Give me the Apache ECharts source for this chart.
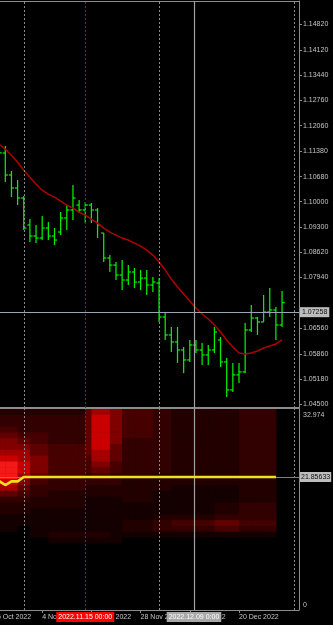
<!DOCTYPE html>
<html>
<head>
<meta charset="utf-8">
<script src="https://cdn.jsdelivr.net/npm/echarts@6/dist/echarts.min.js"></script>
<style>
html,body{margin:0;padding:0;background:#000;overflow:hidden;}
#chart{width:333px;height:625px;}
</style>
</head>
<body>
<div id="chart"></div>
<script>
// ---- data (daily bars) ----
const dates = ['2022.10.26','2022.10.27','2022.10.28','2022.10.31','2022.11.01','2022.11.02','2022.11.03','2022.11.04',
 '2022.11.07','2022.11.08','2022.11.09','2022.11.10','2022.11.11','2022.11.14','2022.11.15','2022.11.16','2022.11.17','2022.11.18',
 '2022.11.21','2022.11.22','2022.11.23','2022.11.24','2022.11.25','2022.11.28','2022.11.29','2022.11.30','2022.12.01','2022.12.02',
 '2022.12.05','2022.12.06','2022.12.07','2022.12.08','2022.12.09','2022.12.12','2022.12.13','2022.12.14','2022.12.15','2022.12.16',
 '2022.12.19','2022.12.20','2022.12.21','2022.12.22','2022.12.23','2022.12.26','2022.12.27','2022.12.28','2022.12.29'];
const opens  = [1.11401,1.11320,1.10722,1.10370,1.10099,1.09366,1.09067,1.09013,1.09284,1.09067,1.09176,1.09555,1.09773,1.09908,1.09773,1.09908,1.09773,1.09149,1.08470,1.08279,1.08008,1.07873,1.08090,1.07818,1.07926,1.07737,1.07791,1.06869,1.06382,1.06192,1.05975,1.05704,1.06110,1.05975,1.05840,1.05975,1.06246,1.05650,1.04891,1.05298,1.05379,1.06517,1.06842,1.06734,1.07005,1.07059,1.06653];
const highs  = [1.11672,1.11509,1.10831,1.10587,1.10153,1.09529,1.09366,1.09610,1.09447,1.09284,1.09718,1.09908,1.10451,1.10044,1.09990,1.09963,1.09827,1.09149,1.08551,1.08361,1.08415,1.08279,1.08198,1.08143,1.08143,1.07953,1.07926,1.06978,1.06598,1.06598,1.06056,1.06246,1.06246,1.06165,1.06110,1.06598,1.06327,1.05758,1.05623,1.05623,1.06707,1.07195,1.06869,1.07466,1.07655,1.07140,1.07574];
const lows   = [1.11129,1.10532,1.10126,1.09908,1.09230,1.08904,1.08877,1.08958,1.08958,1.08823,1.09094,1.09230,1.09501,1.09691,1.09420,1.09420,1.09013,1.08361,1.08089,1.07873,1.07601,1.07737,1.07655,1.07601,1.07466,1.07547,1.06734,1.06246,1.05921,1.05623,1.05352,1.05650,1.05894,1.05569,1.05569,1.05894,1.05514,1.04701,1.04837,1.05081,1.05352,1.06463,1.06382,1.06734,1.06869,1.06246,1.06598];
const closes = [1.11320,1.10722,1.10370,1.10099,1.09284,1.09067,1.09013,1.09284,1.09067,1.08958,1.09555,1.09773,1.10099,1.09773,1.09908,1.09773,1.09366,1.08470,1.08279,1.08008,1.07873,1.08090,1.07818,1.07926,1.07737,1.07818,1.06869,1.06382,1.06192,1.05975,1.05704,1.06110,1.05975,1.05840,1.05975,1.06463,1.05650,1.04891,1.05298,1.05379,1.06517,1.06842,1.06734,1.07005,1.07059,1.06653,1.07258];
const maValues = [1.11558,1.11422,1.11260,1.11070,1.10853,1.10663,1.10474,1.10311,1.10203,1.10121,1.10013,1.09905,1.09823,1.09715,1.09634,1.09526,1.09417,1.09282,1.09173,1.09092,1.09011,1.08957,1.08875,1.08794,1.08686,1.08550,1.08360,1.08143,1.07899,1.07682,1.07493,1.07303,1.07113,1.06950,1.06815,1.06652,1.06463,1.06246,1.06056,1.05893,1.05866,1.05893,1.05948,1.06029,1.06083,1.06137,1.06246];
const oscValues = [21.17,20.49,21.11,21.11,21.856,21.856,21.856,21.856,21.856,21.856,21.856,21.856,21.856,21.856,21.856,21.856,21.856,21.856,21.856,21.856,21.856,21.856,21.856,21.856,21.856,21.856,21.856,21.856,21.856,21.856,21.856,21.856,21.856,21.856,21.856,21.856,21.856,21.856,21.856,21.856,21.856,21.856,21.856,21.856,21.856,21.856,null];
const currentPrice = 1.07258;
const oscLevel = 21.85633;
const oscMaxLabel = 32.974;
const priceTicks = [1.14820,1.14120,1.13440,1.12760,1.12060,1.11380,1.10680,1.10000,1.09300,1.08620,1.07940,1.06560,1.05860,1.05180,1.04500];
const timeLabels = ['25 Oct 2022','4 Nov 2022','16 Nov 2022','28 Nov 2022','8 Dec 2022','20 Dec 2022'];
const timeLabelBars = [-1,7,15,23,31,39];
const gridLineBars = [4,26,48];
const redMarkerBar = 14, redMarkerText = '2022.11.15 00:00';
const grayMarkerBar = 31.68, grayMarkerText = '2022.12.09 0:00';
// heat map: column groups (in bars) and intensity level 0-9 per value bin
const heatColSpans = [4,2,3,6,1,3,2,5,3,7,4,6];
const heatBins = [33,32,31,30,29,28,27,26,25,24,23,22,21,20,19,18,17,16,15,14,13,12,11,10];
const heatLevels = [
 [2,2,2,2,5,7,6,4,3,2,2,3],
 [3,3,3,3,5,8,6,4,3,2,2,3],
 [3,3,3,3,5,8,6,4,3,2,2,3],
 [4,3,3,3,5,8,6,4,3,2,2,3],
 [5,4,4,3,5,8,6,4,3,2,2,3],
 [6,5,4,3,5,8,6,3,3,2,2,3],
 [6,6,5,4,5,8,5,3,3,2,2,3],
 [7,7,5,4,5,7,5,3,3,2,2,3],
 [8,7,6,4,4,7,5,3,3,2,2,3],
 [9,8,6,4,4,6,4,3,3,2,2,3],
 [9,8,6,4,4,5,4,3,3,2,2,3],
 [9,7,5,4,3,4,3,3,2,2,2,3],
 [8,6,4,3,3,3,3,2,2,2,2,2],
 [7,5,3,3,2,2,2,2,2,1,1,2],
 [5,4,3,2,2,2,2,2,1,1,1,2],
 [3,3,2,2,1,1,1,2,1,1,1,2],
 [2,2,2,2,1,1,1,1,1,1,2,3],
 [2,2,1,1,1,1,1,1,1,1,2,3],
 [1,1,1,1,1,1,1,1,2,2,3,3],
 [1,1,1,1,1,1,1,2,3,4,5,4],
 [1,0,1,1,1,1,1,2,3,3,4,3],
 [0,0,1,2,2,2,1,1,1,1,1,1],
 [0,0,0,1,1,1,1,0,0,0,0,0],
 [0,0,0,0,0,0,0,0,0,0,0,0]
];
const heatPalette = ['#000000','#140000','#220000','#320000','#460000','#600000','#800000','#a40000','#ca0000','#f41818'];

// ---- build ----
const FONT = 'Liberation Sans';
const XMIN = 0.138, XMAX = 48.756;
const ohlcData = dates.map((d,i)=>[i, opens[i], highs[i], lows[i], closes[i]]);
const maData = dates.map((d,i)=>[i, maValues[i]]);
const oscData = dates.map((d,i)=>[i, oscValues[i]]);
const heatData = [];
heatBins.forEach((b, r) => {
  let col = 0;
  heatColSpans.forEach((span, g) => {
    for (let k = 0; k < span; k++) { heatData.push([col, b, heatLevels[r][g]]); col++; }
  });
});

const axisGray = '#8c8c8c';
const xBase = {type:'value', min:XMIN, max:XMAX, axisTick:{show:false}, axisLabel:{show:false}, splitLine:{show:false}};
const vLines = gridLineBars.map(v=>({xAxis:v, lineStyle:{color:'#8a8a8a', type:[2,2], width:1}}))
  .concat([{xAxis:redMarkerBar, lineStyle:{color:'#c80000', type:[2,2], width:1}},
           {xAxis:grayMarkerBar, lineStyle:{color:'#a0a0a0', type:'solid', width:1.2}}]);

const chart = echarts.init(document.getElementById('chart'), null, {renderer:'canvas'});
chart.setOption({
  backgroundColor:'#000000',
  animation:false,
  grid:[{left:0, right:34, top:1, height:407}, {left:0, right:34, top:409, height:201}],
  xAxis:[
    Object.assign({}, xBase, {gridIndex:0, position:'top', axisLine:{show:true, onZero:false, lineStyle:{color:axisGray, width:1}}}),
    Object.assign({}, xBase, {gridIndex:0, position:'bottom', axisLine:{show:true, onZero:false, lineStyle:{color:axisGray, width:2}}}),
    Object.assign({}, xBase, {gridIndex:1, position:'bottom', axisLine:{show:true, onZero:false, lineStyle:{color:axisGray, width:1}},
      axisTick:{show:true, customValues:timeLabelBars.filter(v=>v>XMIN), length:3, lineStyle:{color:axisGray}}})
  ],
  yAxis:[
    {type:'value', gridIndex:0, position:'right', min:1.04400, max:1.15444,
     axisLine:{show:true, onZero:false, lineStyle:{color:axisGray}},
     axisTick:{show:true, customValues:priceTicks, length:3, lineStyle:{color:axisGray}},
     axisLabel:{customValues:priceTicks, formatter:v=>v.toFixed(5), color:'#c4c4c4', fontSize:7, fontFamily:FONT, margin:4},
     splitLine:{show:false}},
    {type:'value', gridIndex:1, position:'right', min:-0.85, max:33.47,
     axisLine:{show:true, onZero:false, lineStyle:{color:axisGray}},
     axisTick:{show:false},
     axisLabel:{customValues:[0, oscMaxLabel], formatter:v=> v===0 ? '{b|0}' : '{a|'+v.toFixed(3)+'}',
       rich:{a:{color:'#c4c4c4', fontSize:7, fontFamily:FONT, padding:[7,0,0,0]}, b:{color:'#c4c4c4', fontSize:7, fontFamily:FONT}},
       color:'#c4c4c4', fontSize:7, fontFamily:FONT, margin:4},
     splitLine:{show:false}}
  ],
  series:[
    {type:'custom', name:'heat', xAxisIndex:2, yAxisIndex:1, clip:true, silent:true,
     data:heatData,
     renderItem:(params, api)=>{
       const i = api.value(0), b = api.value(1), lev = api.value(2);
       const p1 = api.coord([i-1, b+0.5]);
       const p2 = api.coord([i, b-0.5]);
       return {type:'rect', shape:{x:p1[0], y:p1[1], width:p2[0]-p1[0]+0.5, height:p2[1]-p1[1]+0.5}, style:{fill:heatPalette[lev]}};
     }},
    {type:'custom', name:'bars', xAxisIndex:0, yAxisIndex:0, clip:true, silent:true,
     data:ohlcData, encode:{x:0, y:[1,2,3,4]},
     renderItem:(params, api)=>{
       const i = api.value(0);
       const o = api.coord([i, api.value(1)]);
       const h = api.coord([i, api.value(2)]);
       const l = api.coord([i, api.value(3)]);
       const c = api.coord([i, api.value(4)]);
       const x = o[0], t = 2.6;
       const st = {stroke:'#00f000', lineWidth:1.25};
       return {type:'group', children:[
         {type:'line', shape:{x1:x, y1:h[1], x2:x, y2:l[1]}, style:st},
         {type:'line', shape:{x1:x-t, y1:o[1], x2:x, y2:o[1]}, style:st},
         {type:'line', shape:{x1:x, y1:c[1], x2:x+t, y2:c[1]}, style:st}
       ]};
     },
     markLine:{symbol:['none','none'], silent:true, animation:false,
       data:[{yAxis:currentPrice, lineStyle:{color:'#9aa6b4', width:1, type:'solid'},
              label:{show:true, position:'end', distance:1, formatter:currentPrice.toFixed(5), color:'#101010',
                     backgroundColor:'#bdbdbd', padding:[2,2,1,2], fontSize:7, fontFamily:FONT}}]}},
    {type:'line', name:'ma', xAxisIndex:0, yAxisIndex:0, data:maData, showSymbol:false, silent:true,
     lineStyle:{color:'#b00000', width:1.5}, z:3,
     markLine:{symbol:['none','none'], silent:true, label:{show:false}, data:vLines}},
    {type:'line', name:'osc', xAxisIndex:2, yAxisIndex:1, data:oscData, showSymbol:false, silent:true, z:5,
     lineStyle:{color:'#eee21e', width:2.6},
     markLine:{symbol:['none','none'], silent:true,
       data:vLines.concat([{yAxis:oscLevel, lineStyle:{color:'#808080', width:1, type:'solid'},
         label:{show:true, position:'end', distance:1, formatter:oscLevel.toFixed(5), color:'#101010',
                backgroundColor:'#bdbdbd', padding:[2,1,1,1], fontSize:7, fontFamily:FONT}}]),
       label:{show:false}}}
  ]
});

// time labels and marker boxes, placed through the x axis scale
const gx = v => chart.convertToPixel({xAxisIndex:2}, v);
const labelY = 617;
const graphics = timeLabels.map((t, k) => ({type:'text', x:gx(timeLabelBars[k]), y:labelY, z:10,
  style:{text:t, fill:'#c4c4c4', fontSize:7, fontFamily:FONT, align:'left', verticalAlign:'middle'}}));
graphics.push({type:'text', x:gx(redMarkerBar), y:labelY, z:20,
  style:{text:redMarkerText, fill:'#ffffff', backgroundColor:'#ff0000', padding:[2,2,1,2], fontSize:7, fontFamily:FONT, align:'center', verticalAlign:'middle'}});
graphics.push({type:'text', x:gx(grayMarkerBar), y:labelY, z:20,
  style:{text:grayMarkerText, fill:'#ffffff', backgroundColor:'#a8a8a8', padding:[2,2,1,2], fontSize:7, fontFamily:FONT, align:'center', verticalAlign:'middle'}});
chart.setOption({graphic:graphics});
</script>
</body>
</html>
